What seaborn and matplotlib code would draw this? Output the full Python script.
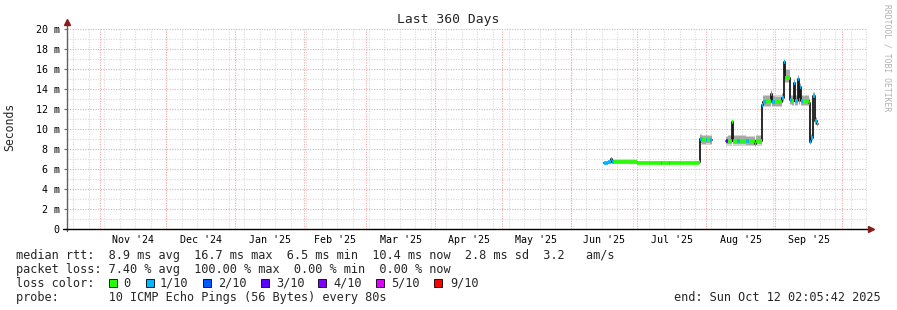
import numpy as np
import pandas as pd
import matplotlib
matplotlib.use("Agg")
import matplotlib.pyplot as plt
import matplotlib.dates as mdates
from matplotlib.patches import Rectangle
import seaborn as sns

# ---------------- data ----------------
dates = [
    "2025-06-15 18:00", "2025-06-17 13:00", "2025-06-19 00:00", "2025-06-19 12:00",
    "2025-06-20 06:00", "2025-07-01 00:00", "2025-07-11 10:00", "2025-07-11 22:00",
    "2025-07-15 00:00", "2025-07-15 12:00", "2025-07-22 00:00", "2025-07-28 22:00",
    "2025-07-29 09:00", "2025-07-30 06:00", "2025-08-01 00:00", "2025-08-01 12:00",
    "2025-08-02 12:00", "2025-08-03 17:00",
    "2025-08-10 02:00", "2025-08-10 14:00", "2025-08-12 04:00", "2025-08-12 16:00",
    "2025-08-13 03:00", "2025-08-15 00:00", "2025-08-16 00:00", "2025-08-19 00:00",
    "2025-08-20 00:00", "2025-08-23 03:00", "2025-08-23 14:00", "2025-08-26 06:00",
    "2025-08-26 17:00", "2025-08-28 00:00", "2025-08-30 05:00", "2025-08-30 16:00",
    "2025-09-01 00:00", "2025-09-04 04:00", "2025-09-04 18:00", "2025-09-05 05:00",
    "2025-09-07 21:00", "2025-09-08 12:00", "2025-09-09 16:00", "2025-09-10 03:00",
    "2025-09-11 08:00", "2025-09-11 19:00", "2025-09-12 08:00", "2025-09-12 19:00",
    "2025-09-13 12:00", "2025-09-16 00:00", "2025-09-16 14:00", "2025-09-17 06:00",
    "2025-09-18 03:00", "2025-09-18 20:00", "2025-09-19 18:00", "2025-09-20 10:00",
]
segment = [0] * 18 + [1] * 36
median_ms = [
    6.55, 6.70, 6.95, 6.70, 6.68, 6.62, 6.58, 6.58, 6.58, 6.60, 6.62, 6.65,
    8.95, 8.85, 8.90, 8.90, 8.85, 8.85,
    8.75, 8.80, 8.80, 10.7, 8.80, 8.80, 8.80, 8.75, 8.75, 8.45, 8.80, 12.4,
    12.75, 12.8, 13.5, 12.75, 12.75, 13.1, 16.7, 15.1, 12.9, 12.8, 14.6, 12.8,
    15.0, 12.9, 14.2, 12.8, 12.8, 12.6, 8.7, 9.1, 13.3, 10.8, 10.5, 10.5,
]
loss_idx = [
    1, 1, 1, 1, 0, 0, 1, 0, 1, 0, 0, 0,
    1, 0, 1, 0, 1, 1,
    3, 0, 0, 0, 0, 1, 0, 1, 0, 0, 0, 1,
    1, 0, 1, 1, 0, 1, 1, 0, 1, 0, 1, 1,
    1, 1, 1, 1, 0, 1, 1, 1, 1, 1, 0, 0,
]
smoke_lo = [
    6.50, 6.65, 6.90, 6.65, 6.62, 6.58, 6.55, 6.55, 6.55, 6.56, 6.58, 6.60,
    8.55, 8.50, 8.55, 8.55, 8.50, 8.50,
    8.45, 8.45, 8.45, 10.5, 8.45, 8.45, 8.45, 8.40, 8.40, 8.30, 8.45, 12.2,
    12.35, 12.35, 13.2, 12.35, 12.35, 12.8, 16.4, 14.7, 12.5, 12.4, 14.3, 12.4,
    14.7, 12.5, 13.9, 12.4, 12.4, 12.3, 8.5, 8.9, 13.0, 10.5, 10.3, 10.3,
]
smoke_hi = [
    6.62, 6.80, 7.05, 6.85, 6.85, 6.70, 6.65, 6.65, 6.65, 6.68, 6.70, 6.72,
    9.35, 9.30, 9.35, 9.30, 9.30, 9.30,
    9.20, 9.25, 9.25, 10.9, 9.25, 9.25, 9.25, 9.20, 9.20, 8.90, 9.25, 12.7,
    13.30, 13.30, 13.8, 13.30, 13.25, 13.5, 16.9, 15.9, 13.3, 13.3, 14.9, 13.3,
    15.3, 13.3, 14.5, 13.3, 13.3, 13.0, 9.0, 9.4, 13.6, 11.1, 10.7, 10.7,
]

loss_labels = ["0", "1/10", "2/10", "3/10", "4/10", "5/10", "9/10"]
loss_colors = ["#26ff00", "#00b8ff", "#0059ff", "#5e00ff", "#7e00ff", "#dd00ff", "#ff0000"]

y_ticks = [0, 2, 4, 6, 8, 10, 12, 14, 16, 18, 20]
y_tick_labels = ["0", "2 m", "4 m", "6 m", "8 m", "10 m", "12 m", "14 m", "16 m", "18 m", "20 m"]
month_starts = ["2024-11-01", "2024-12-01", "2025-01-01", "2025-02-01", "2025-03-01",
                "2025-04-01", "2025-05-01", "2025-06-01", "2025-07-01", "2025-08-01",
                "2025-09-01", "2025-10-01"]
month_labels = ["Nov '24", "Dec '24", "Jan '25", "Feb '25", "Mar '25", "Apr '25",
                "May '25", "Jun '25", "Jul '25", "Aug '25", "Sep '25"]

title = "Last 360 Days"
stats_rtt = "median rtt:  8.9 ms avg  16.7 ms max  6.5 ms min  10.4 ms now  2.8 ms sd  3.2   am/s"
stats_loss = "packet loss: 7.40 % avg  100.00 % max  0.00 % min  0.00 % now"
probe_text = "probe:       10 ICMP Echo Pings (56 Bytes) every 80s"
end_text = "end: Sun Oct 12 02:05:42 2025"
t_start = pd.Timestamp("2024-10-17 02:05:42")
t_end = pd.Timestamp("2025-10-12 02:05:42")

# ---------------- figure ----------------
sns.set_theme(style="white")
plt.rcParams["font.family"] = ["DejaVu Sans Mono", "DejaVu Sans"]

W, H = 897, 310
fig = plt.figure(figsize=(W / 100, H / 100), dpi=100)
fig.patch.set_facecolor("white")
px_l, px_r, px_t, px_b = 66.5, 866.5, 29.3, 228.7
ax = fig.add_axes([px_l / W, 1 - px_b / H, (px_r - px_l) / W, (px_b - px_t) / H])
ax.set_facecolor("white")

df = pd.DataFrame({"date": pd.to_datetime(dates), "median": median_ms,
                   "segment": segment, "loss": loss_idx,
                   "lo": smoke_lo, "hi": smoke_hi})

# grid (drawn manually: rrdtool style dotted)
weeks = pd.date_range("2024-10-20", t_end, freq="7D")
for w in weeks:
    ax.axvline(w, color="#dadada", lw=0.8, ls=(0, (1, 1.3)), zorder=0)
for v in np.arange(1, 21, 2):
    ax.axhline(v, color="#dadada", lw=0.8, ls=(0, (1, 1.3)), zorder=0)
for m in pd.to_datetime(month_starts):
    ax.axvline(m, color="#f4a8a8", lw=0.8, ls=(0, (1, 1.3)), zorder=0.5)
for v in y_ticks[1:]:
    ax.axhline(v, color="#f4a8a8", lw=0.8, ls=(0, (1, 1.3)), zorder=0.5)

# smoke
for seg, g in df.groupby("segment"):
    ax.fill_between(g["date"], g["lo"] - 0.12, g["hi"] + 0.12, step="post",
                    color="#d4d4d4", lw=0, zorder=1)
    ax.fill_between(g["date"], g["lo"], g["hi"], step="post",
                    color="#a8a8a8", lw=0, zorder=1.2)

# median line (black connections)
sns.lineplot(data=df, x="date", y="median", units="segment", estimator=None,
             color="#1a1a1a", lw=1.3, drawstyle="steps-post", ax=ax,
             legend=False, zorder=2)

# loss-coloured median marks
for seg, g in df.groupby("segment"):
    d = mdates.date2num(g["date"])
    for i in range(len(g) - 1):
        ax.hlines(g["median"].iloc[i], d[i], d[i + 1],
                  color=loss_colors[g["loss"].iloc[i]], lw=2.6, zorder=3)

ax.set_xlim(t_start, t_end)
ax.set_ylim(0, 20)
for s in ax.spines.values():
    s.set_visible(False)

# ticks
ms = pd.to_datetime(month_starts)
mids = [ms[i] + (ms[i + 1] - ms[i]) / 2 for i in range(len(month_labels))]
ax.set_xticks(mids)
ax.set_xticklabels(month_labels)
ax.set_yticks(y_ticks)
ax.set_yticklabels(y_tick_labels)
ax.tick_params(axis="x", length=0, pad=4.5, labelsize=7.2, colors="black")
ax.tick_params(axis="y", length=2.4, width=0.8, pad=2.4, labelsize=7.2,
               color="#707070", labelcolor="black", left=True, direction="out")
ax.set_xlabel("")
ax.set_ylabel("")

# axes lines with arrows
ax.plot([0, 0], [-0.01, 1.03], transform=ax.transAxes, color="#606060",
        lw=1.0, clip_on=False, zorder=4)
ax.plot([-0.005, 1.004], [0, 0], transform=ax.transAxes, color="black",
        lw=1.0, clip_on=False, zorder=4)
ax.plot([0], [1.035], transform=ax.transAxes, marker="^", ms=4.5, color="#8b1a1a",
        clip_on=False, zorder=5, mec="#8b1a1a")
ax.plot([1.006], [0], transform=ax.transAxes, marker=">", ms=4.5, color="#8b1a1a",
        clip_on=False, zorder=5, mec="#8b1a1a")

# texts
fig.text(0.5, 1 - 19 / H, title, ha="center", va="center", fontsize=9.4)
fig.text(10 / W, 1 - 127 / H, "Seconds", rotation=90, ha="center", va="center",
         fontsize=8.3)
fig.text(887 / W, 1 - 4 / H, "RRDTOOL / TOBI OETIKER", rotation=270, ha="center",
         va="top", fontsize=5.8, color="#b0b0b0")

fs = 8.55
fig.text(16 / W, 1 - 259 / H, stats_rtt, ha="left", va="baseline", fontsize=fs)
fig.text(16 / W, 1 - 273 / H, stats_loss, ha="left", va="baseline", fontsize=fs)
fig.text(16 / W, 1 - 287 / H, "loss color:", ha="left", va="baseline", fontsize=fs)
box_x = [109, 146, 203, 261, 318, 376, 434]
lab_x = [123, 160, 218, 276, 333, 391, 450]
for bx, lx, c, lab in zip(box_x, lab_x, loss_colors, loss_labels):
    fig.patches.append(Rectangle((bx / W, 1 - 286.5 / H), 7.5 / W, 7.5 / H,
                                 transform=fig.transFigure, facecolor=c,
                                 edgecolor="black", lw=0.6))
    fig.text(lx / W, 1 - 287 / H, lab, ha="left", va="baseline", fontsize=fs)
fig.text(16 / W, 1 - 301 / H, probe_text, ha="left", va="baseline", fontsize=fs)
fig.text(881 / W, 1 - 301 / H, end_text, ha="right", va="baseline", fontsize=fs)

fig.savefig("out.png", dpi=100, facecolor="white")
